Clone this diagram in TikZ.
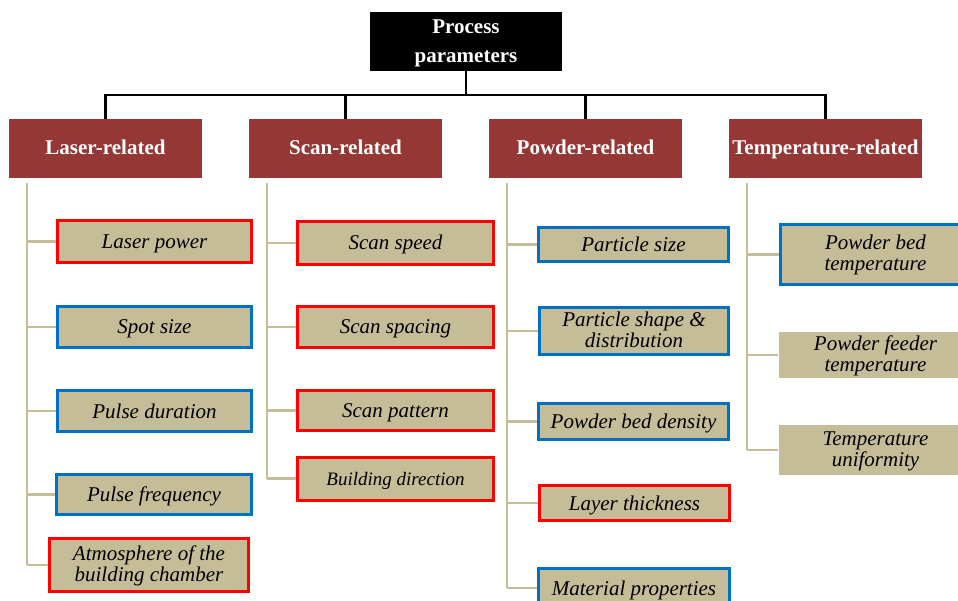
\documentclass[tikz,border=0pt]{standalone}
\usepackage{fontspec}
\setmainfont{Liberation Serif}
\definecolor{hdrred}{HTML}{953735}
\definecolor{leaftan}{HTML}{C4BD97}
\definecolor{redline}{HTML}{FF0000}
\definecolor{blueline}{HTML}{0070C0}
\tikzset{
	toproot/.style={fill=black, text=white, font=\bfseries\fontsize{21}{29}\selectfont, align=center, minimum width=192pt, minimum height=59pt, inner sep=0pt, text height=43pt, text depth=1pt},
	category/.style={fill=hdrred, text=white, font=\bfseries\fontsize{21}{24}\selectfont, minimum width=193pt, minimum height=59pt, inner sep=0pt, text height=14pt, text depth=2pt},
	param/.style={fill=leaftan, font=\itshape\fontsize{21}{21}\selectfont, align=center, inner sep=0pt, line width=3pt, text height=16pt, text depth=2pt},
	twoline/.style={text height=37pt, text depth=4pt},
	redparam/.style={param, draw=redline},
	blueparam/.style={param, draw=blueline},
	link/.style={line width=2.2pt},
	stem/.style={draw=leaftan, line width=2.8pt}
}
\begin{document}
\begin{tikzpicture}[x=1pt,y=-1pt]
	\clip (0,0) rectangle (958,601);
	\fill[white] (0,0) rectangle (958,601);

	\node[toproot] (root) at (466,41.5) {Process\\parameters};

	\node[category] (laser) at (105.5,148.5) {Laser-related};
	\node[category] (scan) at (345.5,148.5) {Scan-related};
	\node[category] (powder) at (585.5,148.5) {Powder-related};
	\node[category] (temp) at (825.5,148.5) {Temperature-related};

	\coordinate (bus) at (466,95);
	\draw[link] (root.south) -- (bus);
	\draw[link] (laser.north) |- (bus) -| (temp.north);
	\draw[link] (scan.north) -- (scan.north |- bus);
	\draw[link] (powder.north) -- (powder.north |- bus);

	\node[redparam, minimum width=194pt, minimum height=42pt] (lpower) at (154.5,241.5) {Laser power};
	\node[blueparam, minimum width=194pt, minimum height=41pt] (lspot) at (154.5,327) {Spot size};
	\node[blueparam, minimum width=194pt, minimum height=41pt] (lpulse) at (154.5,411) {Pulse duration};
	\node[blueparam, minimum width=195pt, minimum height=40pt] (lfreq) at (154,494.5) {Pulse frequency};
	\node[redparam, twoline, minimum width=199pt, minimum height=53pt] (latm) at (149,565) {Atmosphere of the\\building chamber};

	\node[redparam, minimum width=196pt, minimum height=43pt] (sspeed) at (395.5,243) {Scan speed};
	\node[redparam, minimum width=196pt, minimum height=41pt] (sspacing) at (395.5,327) {Scan spacing};
	\node[redparam, minimum width=196pt, minimum height=40pt] (spattern) at (395.5,410.5) {Scan pattern};
	\node[redparam, minimum width=196pt, minimum height=43pt, font=\itshape\fontsize{19}{21}\selectfont] (sbuild) at (395.5,478.5) {Building direction};

	\node[blueparam, minimum width=190pt, minimum height=34pt] (psize) at (633.5,244.5) {Particle size};
	\node[blueparam, twoline, minimum width=189pt, minimum height=47pt] (pshape) at (634,331) {Particle shape \&\\distribution};
	\node[blueparam, minimum width=190pt, minimum height=36pt] (pdensity) at (633.5,421.5) {Powder bed density};
	\node[redparam, minimum width=190pt, minimum height=35pt] (player) at (634.5,503) {Layer thickness};
	\node[blueparam, minimum width=191pt, minimum height=39pt] (pmat) at (634,588) {Material properties};

	\node[blueparam, twoline, minimum width=190pt, minimum height=60pt] (tbed) at (875.5,254.5) {Powder bed\\temperature};
	\node[param, twoline, minimum width=193pt, minimum height=46pt] (tfeed) at (875.5,355) {Powder feeder\\temperature};
	\node[param, twoline, minimum width=193pt, minimum height=50pt] (tuni) at (875.5,450) {Temperature\\uniformity};

	\coordinate (ltrunk) at (27,183);
	\coordinate (strunk) at (267,183);
	\coordinate (ptrunk) at (507,183);
	\coordinate (ttrunk) at (747,183);

	\draw[stem] (ltrunk) -- (ltrunk |- latm.west);
	\draw[stem] (ltrunk |- lpower.west) -- (lpower.west);
	\draw[stem] (ltrunk |- lspot.west) -- (lspot.west);
	\draw[stem] (ltrunk |- lpulse.west) -- (lpulse.west);
	\draw[stem] (ltrunk |- lfreq.west) -- (lfreq.west);
	\draw[stem] (ltrunk |- latm.west) -- (latm.west);

	\draw[stem] (strunk) -- (strunk |- sbuild.west);
	\draw[stem] (strunk |- sspeed.west) -- (sspeed.west);
	\draw[stem] (strunk |- sspacing.west) -- (sspacing.west);
	\draw[stem] (strunk |- spattern.west) -- (spattern.west);
	\draw[stem] (strunk |- sbuild.west) -- (sbuild.west);

	\draw[stem] (ptrunk) -- (ptrunk |- pmat.west);
	\draw[stem] (ptrunk |- psize.west) -- (psize.west);
	\draw[stem] (ptrunk |- pshape.west) -- (pshape.west);
	\draw[stem] (ptrunk |- pdensity.west) -- (pdensity.west);
	\draw[stem] (ptrunk |- player.west) -- (player.west);
	\draw[stem] (ptrunk |- pmat.west) -- (pmat.west);

	\draw[stem] (ttrunk) -- (ttrunk |- tuni.west);
	\draw[stem] (ttrunk |- tbed.west) -- (tbed.west);
	\draw[stem] (ttrunk |- tfeed.west) -- (tfeed.west);
	\draw[stem] (ttrunk |- tuni.west) -- (tuni.west);
\end{tikzpicture}
\end{document}
